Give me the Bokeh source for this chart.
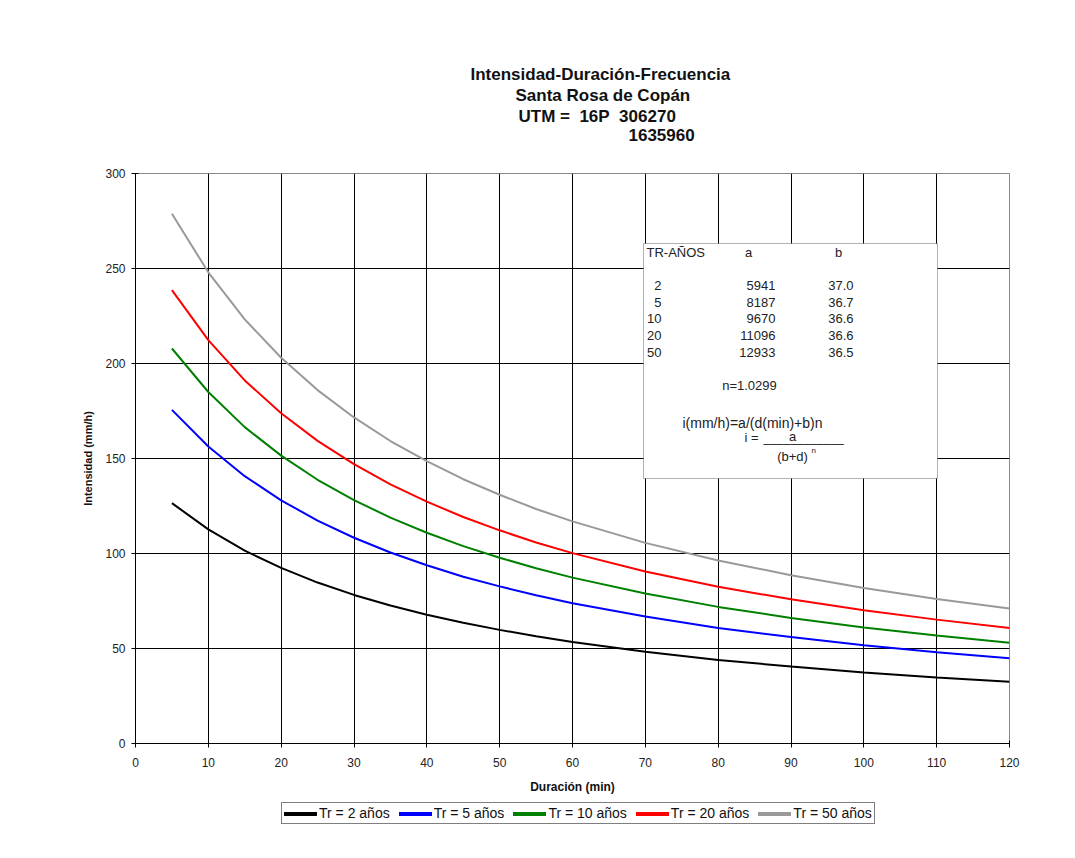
from bokeh.plotting import figure
from bokeh.layouts import column
from bokeh.models import (Label, BoxAnnotation, Legend, LegendItem, SingleIntervalTicker,
                          Range1d, Title)
from bokeh.embed import file_html
from bokeh.resources import INLINE

# ---------------- data ----------------
duracion = [5, 10, 15, 20, 25, 30, 35, 40, 45, 50, 55, 60, 70, 80, 90, 100, 110, 120]
tr2 = [126.5, 112.7, 101.5, 92.4, 84.7, 78.2, 72.6, 67.8, 63.5, 59.8, 56.4, 53.4, 48.3, 44.0, 40.5, 37.4, 34.8, 32.5]
tr5 = [175.6, 156.3, 140.7, 128.0, 117.3, 108.3, 100.5, 93.8, 87.8, 82.7, 78.0, 73.8, 66.8, 60.8, 56.0, 51.7, 48.0, 44.9]
tr10 = [207.9, 185.0, 166.5, 151.5, 138.8, 128.1, 118.9, 110.9, 103.9, 97.8, 92.2, 87.3, 78.9, 71.9, 66.1, 61.1, 56.8, 53.0]
tr20 = [238.6, 212.3, 191.1, 173.8, 159.3, 147.0, 136.4, 127.3, 119.2, 112.2, 105.8, 100.2, 90.5, 82.5, 75.9, 70.1, 65.2, 60.8]
tr50 = [278.8, 248.0, 223.2, 203.0, 186.0, 171.6, 159.2, 148.6, 139.1, 130.9, 123.4, 116.9, 105.6, 96.3, 88.6, 81.8, 76.1, 71.0]

series_names = ["Tr = 2 años", "Tr = 5 años", "Tr = 10 años", "Tr = 20 años", "Tr = 50 años"]
series_values = [tr2, tr5, tr10, tr20, tr50]
series_colors = ["#000000", "#0000ff", "#008000", "#ff0000", "#999999"]

table_tr = ["2", "5", "10", "20", "50"]
table_a = ["5941", "8187", "9670", "11096", "12933"]
table_b = ["37.0", "36.7", "36.6", "36.6", "36.5"]

title_lines = ["Intensidad-Duración-Frecuencia", "Santa Rosa de Copán",
               "UTM =\u00a0 16P\u00a0 306270", "1635960"]

FONT = "Liberation Sans"

# ---------------- main figure ----------------
X_MAX, Y_MAX = 120, 300
PX0, PY0 = 135, 173          # frame top-left in page pixels
FW, FH = 874, 570            # frame size
W, H = 1059, 800
p = figure(width=W, height=H, output_backend="svg", toolbar_location=None,
           x_range=Range1d(0, X_MAX), y_range=Range1d(0, Y_MAX),
           min_border_left=PX0, min_border_top=PY0, min_border_right=W - PX0 - FW,
           min_border_bottom=H - PY0 - FH,
           background_fill_color="white", border_fill_color="white")
p.outline_line_color = "#888888"

def dx(px):
    return (px - PX0) / FW * X_MAX
def dy(py):
    return (PY0 + FH - py) / FH * Y_MAX

for ax in (p.xaxis[0], p.yaxis[0]):
    ax.axis_line_color = "black"
    ax.major_tick_line_color = "black"
    ax.major_tick_in = 3
    ax.major_tick_out = 4
    ax.minor_tick_line_color = None
    ax.major_label_text_font = FONT
    ax.major_label_text_font_size = "12px"
    ax.major_label_text_color = "#222222"
    ax.axis_label_text_font = FONT
    ax.axis_label_text_font_style = "bold"
    ax.axis_label_text_color = "#111111"

p.xaxis.ticker = SingleIntervalTicker(interval=10)
p.yaxis.ticker = SingleIntervalTicker(interval=50)
p.xaxis.axis_label = "Duración (min)"
p.yaxis.axis_label = "Intensidad (mm/h)"
p.xaxis.axis_label_text_font_size = "12px"
p.yaxis.axis_label_text_font_size = "11px"
p.xaxis.major_label_standoff = 10
p.yaxis.major_label_standoff = 6
p.xaxis.axis_label_standoff = 10
p.yaxis.axis_label_standoff = 8

p.xgrid.grid_line_color = "black"
p.ygrid.grid_line_color = "black"

for vals, col in zip(series_values, series_colors):
    p.line(duracion, vals, line_color=col, line_width=2)

# ---------------- title (stacked titles, nearest to the frame first) ----------------
def title(text, left_px, size="17px", standoff=0):
    p.add_layout(Title(text=text, align="left", offset=left_px - PX0, text_font=FONT,
                       text_font_size=size, text_font_style="bold", text_color="#111111",
                       standoff=standoff), "above")

p.add_layout(Title(text="\u00a0", text_font_size="24px", standoff=4), "above")
title(title_lines[3], 628)
title(title_lines[2], 518, standoff=1)
title(title_lines[1], 515)
title(title_lines[0], 470)

# ---------------- table box ----------------
def lab(text, px, py, size="13px", align="left"):
    p.add_layout(Label(x=dx(px), y=dy(py), text=text, text_align=align, text_baseline="middle",
                       text_font=FONT, text_font_size=size, text_color="#222222"))

p.add_layout(BoxAnnotation(left=dx(643), right=dx(937), top=dy(243), bottom=dy(478),
                           fill_color="white", fill_alpha=1, line_color="black", line_width=1))
lab("TR-AÑOS", 646, 252)
lab("a", 748, 252, align="center")
lab("b", 838, 252, align="center")
row_y = [285, 301.5, 318, 335, 351.5]
for tr, a, b, yy in zip(table_tr, table_a, table_b, row_y):
    lab(tr, 661, yy, align="right")
    lab(a, 775, yy, align="right")
    lab(b, 853, yy, align="right")
lab("n=1.0299", 749, 385, align="center")
lab("i(mm/h)=a/(d(min)+b)n", 752, 422, size="14px", align="center")
lab("i =", 758, 437, align="right")
lab("a", 792, 436, align="center")
lab("____________", 763, 437, size="12px")
lab("(b+d)", 792, 456, align="center")
lab("n", 811, 450, size="8px")

# ---------------- legend strip (its own small figure below) ----------------
LH = 40
lf = figure(width=W, height=LH, output_backend="svg", toolbar_location=None,
            x_axis_location=None, y_axis_location=None,
            x_range=Range1d(0, X_MAX), y_range=Range1d(0, Y_MAX),
            min_border_left=PX0, min_border_right=W - PX0 - FW, min_border_top=0,
            min_border_bottom=0, background_fill_color="white", border_fill_color="white")
lf.outline_line_color = None
lf.grid.visible = False
items = []
for name, vals, col in zip(series_names, series_values, series_colors):
    r = lf.line(duracion, vals, line_color=col, line_width=4, line_cap="round")
    r.visible = False
    items.append(LegendItem(label=name, renderers=[r]))
legend = Legend(items=items, orientation="horizontal", location=(281 - PX0, 16),
                border_line_color="black", border_line_width=1,
                background_fill_color="white", background_fill_alpha=1,
                inactive_fill_alpha=0,
                label_text_font=FONT, label_text_font_size="14px", label_text_color="#111111",
                glyph_width=33, glyph_height=13, label_height=14, label_standoff=2,
                spacing=9, padding=2, margin=0)
lf.add_layout(legend)

layout = column(p, lf, spacing=0)
open("out.html", "w").write(file_html(layout, INLINE))
